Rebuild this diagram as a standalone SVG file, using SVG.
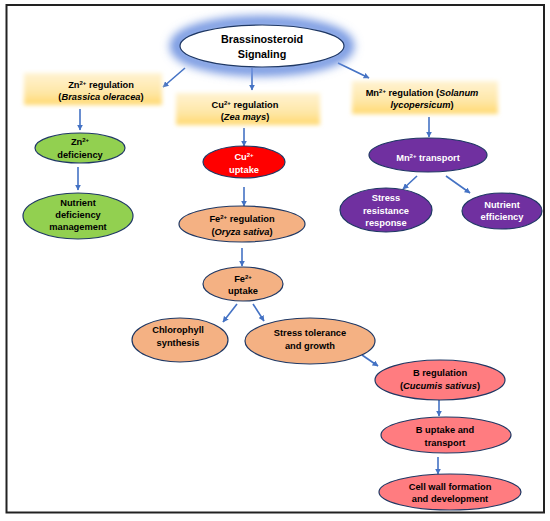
<svg xmlns="http://www.w3.org/2000/svg" width="550" height="521" viewBox="0 0 550 521">
<defs>
<style>
text{font-family:"Liberation Sans",Arial,sans-serif;font-weight:bold;font-size:9.3px;text-anchor:middle;fill:#000}
.w{fill:#fff}
.it{font-style:italic}
.sup{font-size:6px}
.node{stroke:#1F3864;stroke-width:1.2}
.arr{stroke:#4472C4;stroke-width:1.6;fill:none;marker-end:url(#ah)}
.band{fill:url(#bandG);filter:url(#soft)}
</style>
<marker id="ah" viewBox="0 0 10 10" refX="9" refY="5" markerWidth="6" markerHeight="6" orient="auto" markerUnits="userSpaceOnUse">
<path d="M0,0 L10,5 L0,10 z" fill="#4472C4"/>
</marker>
<linearGradient id="bandG" x1="0" y1="0" x2="0" y2="1">
<stop offset="0" stop-color="#FFF3D2"/>
<stop offset="0.6" stop-color="#FEE7A8"/>
<stop offset="1" stop-color="#FFD970"/>
</linearGradient>
<filter id="soft" x="-10%" y="-30%" width="120%" height="160%">
<feGaussianBlur stdDeviation="2"/>
</filter>
<filter id="glow" x="-30%" y="-60%" width="160%" height="220%">
<feGaussianBlur stdDeviation="5"/>
</filter>
</defs>
<rect width="550" height="521" fill="#fff"/>
<rect x="6.5" y="5" width="537.5" height="507.5" fill="none" stroke="#222" stroke-width="2"/>

<g id="connectors">
<line class="arr" x1="185" y1="68" x2="163" y2="87"/>
<line class="arr" x1="252" y1="68" x2="252" y2="90"/>
<line class="arr" x1="338" y1="63" x2="369" y2="78"/>
<line class="arr" x1="80" y1="109" x2="80" y2="130"/>
<line class="arr" x1="78" y1="167" x2="78" y2="190"/>
<line class="arr" x1="244" y1="128" x2="244" y2="146"/>
<line class="arr" x1="244" y1="187" x2="244" y2="206"/>
<line class="arr" x1="242" y1="248" x2="242" y2="266"/>
<line class="arr" x1="237" y1="304" x2="223" y2="322"/>
<line class="arr" x1="253" y1="304" x2="264" y2="321"/>
<line class="arr" x1="362" y1="355" x2="378" y2="366"/>
<line class="arr" x1="439" y1="400" x2="439" y2="416"/>
<line class="arr" x1="438" y1="457" x2="438" y2="474"/>
<line class="arr" x1="429" y1="117" x2="429" y2="137"/>
<line class="arr" x1="417" y1="176" x2="403" y2="189"/>
<line class="arr" x1="446" y1="176" x2="470" y2="193"/>
</g>

<g id="brassinosteroid">
<ellipse cx="262" cy="46" rx="86" ry="24" fill="none" stroke="#6F93E0" stroke-width="12" filter="url(#glow)"/>
<ellipse class="node" cx="262" cy="46" rx="82" ry="21" fill="#fff"/>
<text x="262" y="43" style="font-size:10.8px">Brassinosteroid</text>
<text x="262" y="58" style="font-size:10.8px">Signaling</text>
</g>

<g id="zn-regulation">
<rect class="band" x="24" y="73" width="138" height="32"/>
<text x="101" y="88">Zn<tspan class="sup" dy="-3">2+</tspan><tspan dy="3"> regulation</tspan></text>
<text x="101" y="100">(<tspan class="it">Brassica oleracea</tspan>)</text>
</g>

<g id="cu-regulation">
<rect class="band" x="176" y="93" width="144" height="32"/>
<text x="245" y="108">Cu<tspan class="sup" dy="-3">2+</tspan><tspan dy="3"> regulation</tspan></text>
<text x="245" y="120">(<tspan class="it">Zea mays</tspan>)</text>
</g>

<g id="mn-regulation">
<rect class="band" x="352" y="81" width="146" height="33"/>
<text x="422" y="96">Mn<tspan class="sup" dy="-3">2+</tspan><tspan dy="3"> regulation (</tspan><tspan class="it">Solanum</tspan></text>
<text x="422" y="108"><tspan class="it">lycopersicum</tspan>)</text>
</g>

<g id="zn-deficiency">
<ellipse class="node" cx="80" cy="148" rx="45" ry="15" fill="#92D050"/>
<text x="80" y="145">Zn<tspan class="sup" dy="-3">2+</tspan></text>
<text x="80" y="158">deficiency</text>
</g>

<g id="nutrient-deficiency">
<ellipse class="node" cx="78" cy="216" rx="55" ry="23" fill="#92D050"/>
<text x="78" y="206">Nutrient</text>
<text x="78" y="218">deficiency</text>
<text x="78" y="230">management</text>
</g>

<g id="cu-uptake">
<ellipse class="node" cx="244" cy="162" rx="41" ry="16" fill="#FF0000"/>
<text class="w" x="244" y="160">Cu<tspan class="sup" dy="-3">2+</tspan></text>
<text class="w" x="244" y="173">uptake</text>
</g>

<g id="fe-regulation">
<ellipse class="node" cx="242" cy="224" rx="63" ry="18" fill="#F4B183"/>
<text x="242" y="222">Fe<tspan class="sup" dy="-3">2+</tspan><tspan dy="3"> regulation</tspan></text>
<text x="242" y="235">(<tspan class="it">Oryza sativa</tspan>)</text>
</g>

<g id="fe-uptake">
<ellipse class="node" cx="243" cy="284" rx="40" ry="17" fill="#F4B183"/>
<text x="243" y="282">Fe<tspan class="sup" dy="-3">2+</tspan></text>
<text x="243" y="294">uptake</text>
</g>

<g id="chlorophyll">
<ellipse class="node" cx="180" cy="340" rx="48" ry="22" fill="#F4B183"/>
<text x="178" y="333">Chlorophyll</text>
<text x="178" y="346">synthesis</text>
</g>

<g id="stress-tolerance">
<ellipse class="node" cx="310" cy="341" rx="65" ry="23" fill="#F4B183"/>
<text x="310" y="336">Stress tolerance</text>
<text x="310" y="349">and growth</text>
</g>

<g id="b-regulation">
<ellipse class="node" cx="440" cy="380" rx="65" ry="20" fill="#FF7C80"/>
<text x="440" y="376">B regulation</text>
<text x="440" y="389">(<tspan class="it">Cucumis sativus</tspan>)</text>
</g>

<g id="b-uptake">
<ellipse class="node" cx="446" cy="435" rx="65" ry="18" fill="#FF7C80"/>
<text x="445" y="433">B uptake and</text>
<text x="445" y="446">transport</text>
</g>

<g id="cell-wall">
<ellipse class="node" cx="450" cy="492" rx="71" ry="18" fill="#FF7C80"/>
<text x="450" y="490">Cell wall formation</text>
<text x="450" y="502">and development</text>
</g>

<g id="mn-transport">
<ellipse class="node" cx="428" cy="155" rx="59" ry="17" fill="#7030A0"/>
<text class="w" x="428" y="161">Mn<tspan class="sup" dy="-3">2+</tspan><tspan dy="3"> transport</tspan></text>
</g>

<g id="stress-resistance">
<ellipse class="node" cx="386" cy="210" rx="46" ry="22" fill="#7030A0"/>
<text class="w" x="386" y="201">Stress</text>
<text class="w" x="386" y="214">resistance</text>
<text class="w" x="386" y="226">response</text>
</g>

<g id="nutrient-efficiency">
<ellipse class="node" cx="502" cy="211" rx="40" ry="18" fill="#7030A0"/>
<text class="w" x="502" y="208">Nutrient</text>
<text class="w" x="502" y="220">efficiency</text>
</g>
</svg>
